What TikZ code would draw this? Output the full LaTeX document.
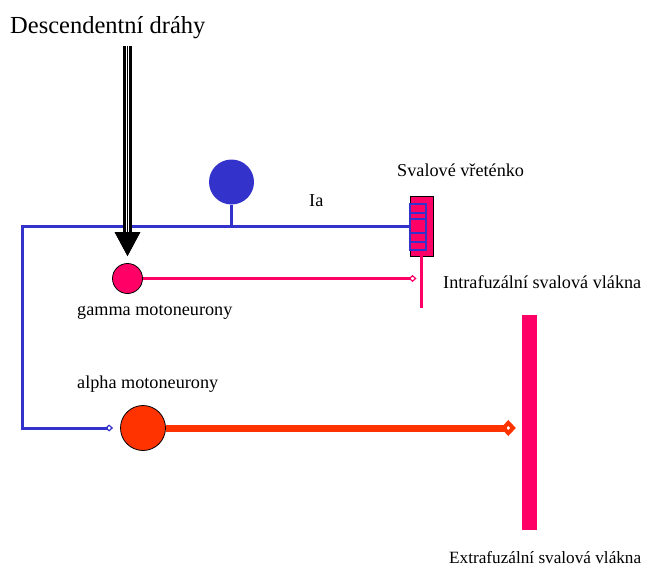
\documentclass[tikz,border=0pt]{standalone}
\usepackage{fontspec}
\setmainfont{Liberation Serif}
\usetikzlibrary{arrows.meta}
\definecolor{iablue}{HTML}{3333CC}
\definecolor{fusepink}{HTML}{FF0066}
\definecolor{alphared}{HTML}{FF3300}
\tikzset{
	reflex arc/.style={
		x=1pt,y=-1pt,
		font=\fontsize{18.2}{21}\selectfont
	},
	label text/.style={
		anchor=base west,
		inner sep=0pt
	},
	neuron/.style={
		circle,
		draw=black,
		line width=0.8pt,
		inner sep=0pt
	},
	ia fibre/.style={
		draw=iablue,
		line width=3pt
	},
	ia tip/.style={
		-{Diamond[open,length=8pt,width=7pt,line width=1.2pt]}
	},
	gamma fibre/.style={
		draw=fusepink,
		line width=3pt
	},
	alpha fibre/.style={
		draw=alphared,
		line width=7pt,
		-{Diamond[open,length=15pt,width=16pt,line width=4pt]}
	},
	descending/.style={
		draw=black,
		line width=3.2pt,
		double=white,
		double distance=2.6pt,
		-{Triangle[width=25pt,length=24pt]},
		postaction={draw=black,line width=1.4pt}
	},
	spindle stripe/.style={
		draw=iablue,
		line width=1.5pt
	}
}
\begin{document}
\begin{tikzpicture}[reflex arc]
	\useasboundingbox (0,0) rectangle (648,570);
	% nodes
	\node[label text,font=\fontsize{24.5}{28}\selectfont] (title) at (10,33) {Descendentní dráhy};
	\coordinate (desc top) at (127.5,46);
	\node[neuron,fill=fusepink,minimum size=30pt] (gamma) at (127.5,278.5) {};
	\node[neuron,fill=alphared,minimum size=45pt] (alpha) at (143,428) {};
	\node[circle,fill=iablue,inner sep=0pt,minimum size=45pt] (ball) at (231.5,182) {};
	\node[rectangle,draw=black,line width=0.8pt,fill=fusepink,minimum width=23pt,minimum height=60pt,inner sep=0pt] (spindle) at (421.5,226) {};
	\node[rectangle,fill=fusepink,minimum width=15pt,minimum height=215pt,inner sep=0pt] (extra) at (529.5,422.5) {};
	\coordinate (intra end) at (421.5,308);
	\coordinate (ia corner) at (22,226);
	% labels
	\node[label text] (gamma lbl) at (77,315) {gamma motoneurony};
	\node[label text] (alpha lbl) at (77,388) {alpha motoneurony};
	\node[label text] (spindle lbl) at (397,176) {Svalové vřeténko};
	\node[label text] (ia lbl) at (309,206) {Ia};
	\node[label text] (intra lbl) at (443,288) {Intrafuzální svalová vlákna};
	\node[label text,font=\fontsize{17.2}{20}\selectfont] (extra lbl) at (449,563) {Extrafuzální svalová vlákna};
	% spindle inside
	\draw[spindle stripe] (410,204) rectangle (426,250);
	\foreach \y in {213,219,233,242}
		\draw[spindle stripe] (410,\y) -- (426,\y);
	% fibres
	\draw[gamma fibre] (spindle.south) -- (intra end);
	\draw[ia fibre] (ball.south) -- (ball.south |- spindle.west);
	\draw[ia fibre,ia tip,shorten >=7pt] (spindle.west) -- (ia corner) |- (alpha.west);
	\draw[gamma fibre,-{Diamond[open,length=8pt,width=7pt,line width=1.2pt]},shorten >=5pt] (gamma.east) -- (gamma.east -| intra end);
	\draw[alpha fibre,shorten >=6pt] (alpha.east) -- (alpha.east -| extra.west);
	\draw[descending,shorten >=7pt] (desc top) -- (gamma.north);
\end{tikzpicture}
\end{document}
